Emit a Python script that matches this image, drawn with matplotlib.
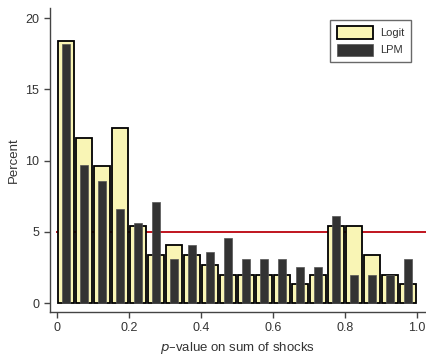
import matplotlib.pyplot as plt
import numpy as np

plt.rcParams['font.family'] = ['Liberation Sans Narrow', 'Liberation Sans', 'DejaVu Sans']

# bin centres of the p-value histogram (width 0.05)
bin_centers = [0.025, 0.075, 0.125, 0.175, 0.225, 0.275, 0.325, 0.375, 0.425, 0.475,
               0.525, 0.575, 0.625, 0.675, 0.725, 0.775, 0.825, 0.875, 0.925, 0.975]
logit_pct = [18.4, 11.6, 9.6, 12.3, 5.4, 3.4, 4.1, 3.4, 2.7, 2.0,
             2.0, 2.0, 2.0, 1.35, 2.0, 5.4, 5.4, 3.4, 2.0, 1.35]
lpm_pct = [18.2, 9.7, 8.6, 6.6, 5.6, 7.1, 3.1, 4.1, 3.6, 4.6,
           3.1, 3.1, 3.1, 2.55, 2.55, 6.1, 2.0, 2.0, 2.0, 3.1]
nominal = 5

logit_color = '#f9f5b5'
lpm_color = '#333333'
line_color = '#c0141e'
text_color = '#333333'

fig = plt.figure(figsize=(4.26, 3.55), dpi=100)
ax = fig.add_axes([0.117, 0.121, 0.883, 0.856])

ax.plot([0.0, 1.1], [nominal, nominal], color=line_color, linewidth=1.4, zorder=1)

ax.bar(bin_centers, logit_pct, width=0.042, color=logit_color, edgecolor='black',
       linewidth=1.3, label='Logit', zorder=2)
ax.bar(bin_centers, lpm_pct, width=0.022, color=lpm_color, edgecolor='#555555',
       linewidth=0.5, label='LPM', zorder=3)

ax.set_xlim(-0.02, 1.025)
ax.set_ylim(-0.63, 20.7)
ax.set_xticks([0, 0.2, 0.4, 0.6, 0.8, 1.0])
ax.set_xticklabels(['0', '0.2', '0.4', '0.6', '0.8', '1.0'])
ax.set_yticks([0, 5, 10, 15, 20])

for side in ['top', 'right']:
    ax.spines[side].set_visible(False)
for side in ['left', 'bottom']:
    ax.spines[side].set_color('#444444')
    ax.spines[side].set_linewidth(1.0)
ax.tick_params(axis='both', colors='#444444', labelcolor=text_color, labelsize=9,
               length=4, width=1.0)

ax.set_ylabel('Percent', fontsize=9.5, color=text_color, labelpad=4)
ax.set_xlabel('$p$\u2013value on sum of shocks', fontsize=9.5, color=text_color, labelpad=4)

leg = ax.legend(loc='upper right', bbox_to_anchor=(0.975, 0.98), fontsize=8,
                frameon=True, fancybox=False, handlelength=3.3, handleheight=1.3,
                borderpad=0.6, labelspacing=0.45, handletextpad=0.6)
leg.get_frame().set_edgecolor('#444444')
leg.get_frame().set_linewidth(1.0)
for t in leg.get_texts():
    t.set_color(text_color)

fig.savefig('out.png', dpi=100)
